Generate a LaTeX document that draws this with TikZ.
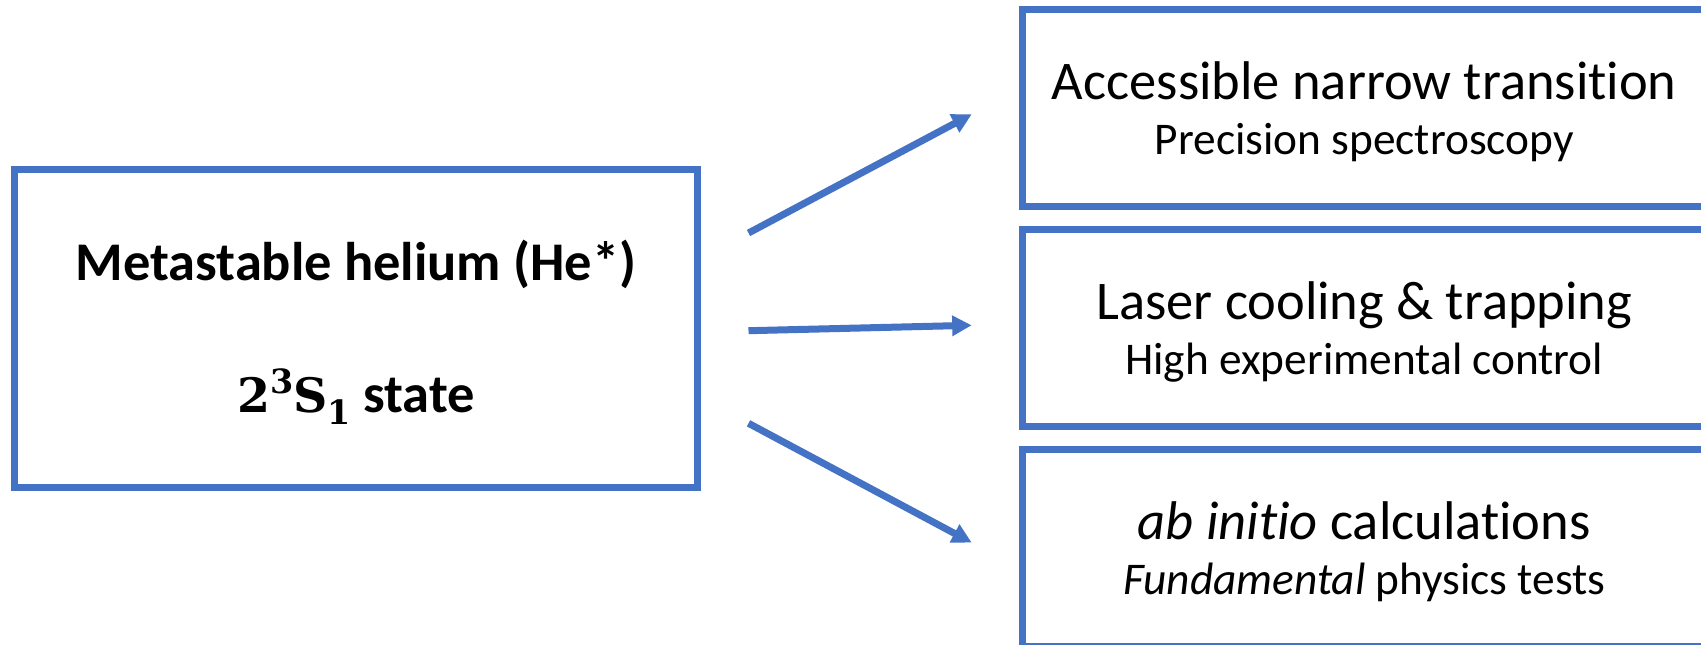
\documentclass[tikz,border=0pt]{standalone}
\usepackage{fontspec}
\setmainfont{Carlito}[Ligatures=NoCommon]
\newfontfamily\statefont{DejaVu Serif}
\usetikzlibrary{positioning,arrows.meta}
\definecolor{heblue}{HTML}{4472C4}
\newcommand{\subtxt}[1]{{\fontsize{25.8}{31.1}\selectfont #1}}
\newcommand{\idx}[1]{{\fontsize{19}{19}\selectfont #1}}
% two lines, first baseline fixed by a strut
\newcommand{\boxtext}[2]{\rule{0pt}{21pt}\smash{#1}\\\smash{#2}}

\begin{document}
\begin{tikzpicture}[
    box/.style={draw=heblue, line width=0.14cm, outer sep=0pt, inner sep=0pt,
      minimum width=13.66cm, align=center},
    sidebox/.style={box, minimum height=3.94cm,
      font=\fontsize{31}{31.1}\selectfont},
    arr/.style={heblue, line width=0.14cm,
      -{Triangle[length=0.39cm,width=0.39cm]}}
  ]
    \useasboundingbox (0,0) rectangle (34.02,-12.9);
    \clip (0,0) rectangle (34.02,-12.9);
    % the He* box
    \node[box, minimum height=6.36cm,
      font=\bfseries\fontsize{31}{75.1}\selectfont] (he) at (7.12,-6.57)
      {\boxtext{Metastable helium (He*)}
        {{\statefont\fontsize{27}{27}\selectfont 2\raisebox{0.42em}{\idx{3}}S\raisebox{-0.25em}{\idx{1}}} state}};
    % the three boxes on the right
    \node[sidebox] (acc) at (27.286,-2.166)
      {\boxtext{Accessible narrow transition}{\subtxt{Precision spectroscopy}}};
    \node[sidebox, below=0.46cm of acc] (laser)
      {\boxtext{Laser cooling \& trapping}{\subtxt{High experimental control}}};
    \node[sidebox, below=0.46cm of laser] (abinit)
      {\boxtext{\textit{ab initio} calculations}{\subtxt{\textit{Fundamental} physics tests}}};
    % arrows
    \draw[arr] ([shift={(1.02,1.91)}]he.east) -- ([shift={(-1.022,-0.12)}]acc.west);
    \draw[arr] ([shift={(1.02,-0.044)}]he.east) -- ([shift={(-1.022,0.06)}]laser.west);
    \draw[arr] ([shift={(1.02,-1.896)}]he.east) -- ([shift={(-1.022,0.114)}]abinit.west);
\end{tikzpicture}
\end{document}
